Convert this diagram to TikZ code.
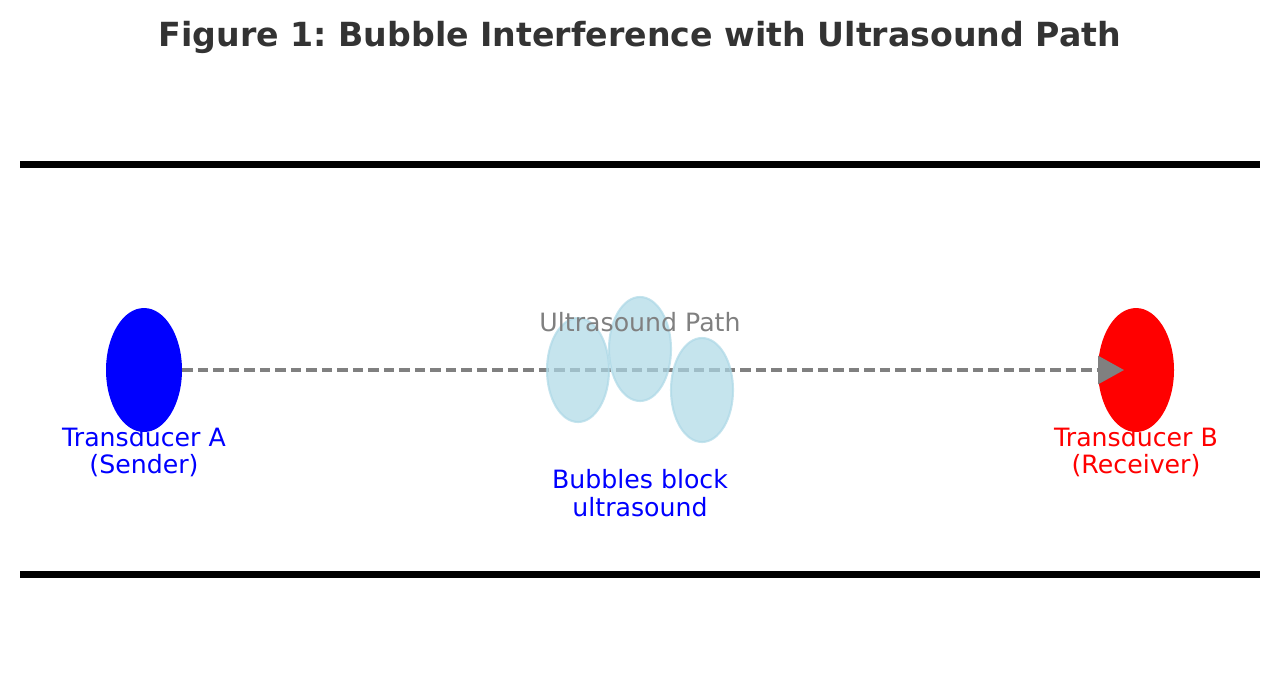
\documentclass[tikz,border=0pt]{standalone}
\usepackage{fontspec}
\setmainfont{DejaVu Sans}
\usepackage{xcolor}
\usetikzlibrary{shapes.geometric}
\usetikzlibrary{arrows.meta}
\frenchspacing

\definecolor{titlegray}{HTML}{333333}
\definecolor{pathgray}{HTML}{808080}
\definecolor{bubblue}{HTML}{ADD8E6}

\begin{document}
\begin{tikzpicture}[x=0.02cm,y=-0.02cm,every path/.style={>={Triangle[length=0.52cm,width=0.56cm]}}]
	\useasboundingbox (0,0) rectangle (1280,698);
	\tikzset{
		trans/.style={ellipse,minimum width=1.52cm,minimum height=2.48cm,inner sep=0pt},
		bubble/.style={ellipse,draw=bubblue,line width=1.2pt,fill=bubblue,fill opacity=0.7,draw opacity=0.7,minimum width=1.24cm,minimum height=2.08cm,inner sep=0pt},
		lab/.style={align=center,font=\fontsize{14.35}{15.6}\selectfont}
	}
	
	% title
	\node[titlegray,font=\fontsize{18.9}{22}\selectfont\bfseries] (title) at (640,37) {Figure 1: Bubble Interference with Ultrasound Path};
	
	% draw pipe walls
	\draw[line width=4.4pt] (20,164.5) -- (1260,164.5);
	\draw[line width=4.4pt] (20,574.5) -- (1260,574.5);
	
	% draw transducers
	\node[trans,fill=blue] (tA) at (144,370) {};
	\node[trans,fill=red] (tB) at (1136,370) {};
	\node[lab,blue] (tAlab) at (144,452) {Transducer A\\(Sender)};
	\node[lab,red] (tBlab) at (1136,452) {Transducer B\\(Receiver)};
	
	% draw ultrasound path
	\coordinate (tip) at (1124,370);
	\draw[->,pathgray,line width=1.8pt,dash pattern=on 0.21cm off 0.1cm] (tA.east) -- (tip);
	
	% draw bubbles
	\foreach \i/\x/\y in {1/578/370,2/640/349,3/702/390}
	{
		\node[bubble] (b-\i) at (\x,\y) {};
	}
	\node[lab,pathgray] (pathlab) at (640,322) {Ultrasound Path};
	\node[lab,blue] (bublab) at (640,493) {Bubbles block\\ultrasound};
\end{tikzpicture}
\end{document}
